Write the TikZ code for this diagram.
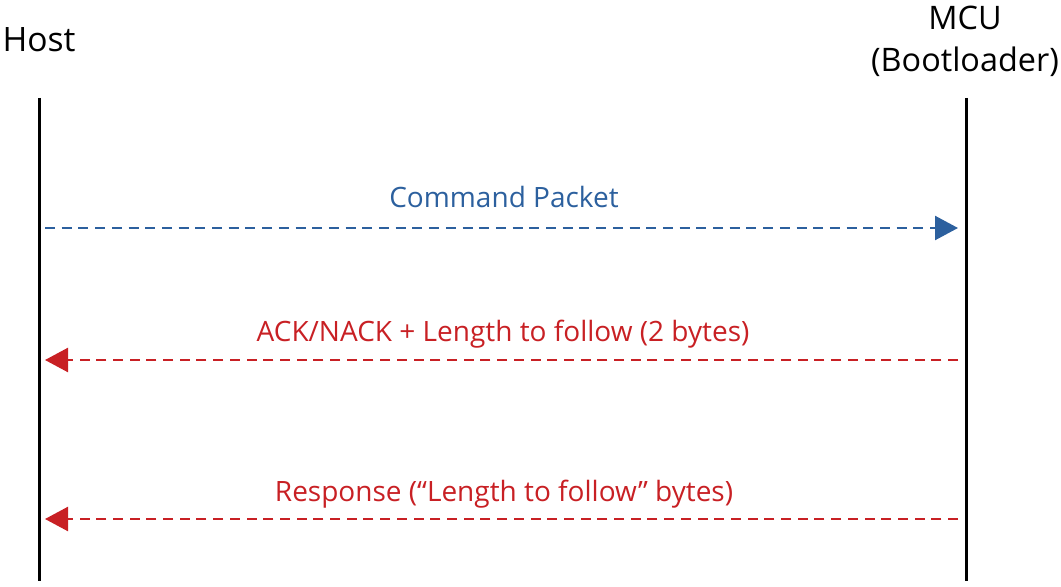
\documentclass[tikz,border=0pt]{standalone}
\usepackage{fontspec}
\setmainfont{Open Sans}
\usetikzlibrary{arrows.meta}

\definecolor{cmdblue}{RGB}{44,96,158}
\definecolor{rspred}{RGB}{200,32,36}

\tikzset{
  lifeline/.style={line width=3bp,black},
  msg/.style={line width=2.4bp,dash pattern=on 10bp off 6.7bp,-{Triangle[length=23bp,width=24bp]}},
  who/.style={font=\fontsize{33.6bp}{42bp}\selectfont,anchor=base,inner sep=0pt},
  msglabel/.style={font=\fontsize{28bp}{34bp}\selectfont,anchor=base,inner sep=0pt}
}

\begin{document}
\begin{tikzpicture}[x=1bp,y=-1bp]
            \useasboundingbox (0,0) rectangle (1061,587);

            % lifelines
            \coordinate (hosttop) at (39,98);
            \coordinate (hostbot) at (39,581);
            \coordinate (mcutop) at (966,98);
            \coordinate (mcubot) at (966,581);
            \draw[lifeline] (hosttop) -- (hostbot);
            \draw[lifeline] (mcutop) -- (mcubot);

            \node[who] (host) at (39,52) {Host};
            \node[who,font=\fontsize{32.4bp}{42bp}\selectfont] (mcu) at (965,30) {MCU};
            \node[who,font=\fontsize{32.4bp}{42bp}\selectfont] (boot) at (965,72) {(Bootloader)};

            % messages
            \coordinate (cmdfrom) at (45,228);
            \coordinate (cmdto) at (958,228);
            \coordinate (ackfrom) at (958,360);
            \coordinate (ackto) at (45,360);
            \coordinate (rspfrom) at (958,519);
            \coordinate (rspto) at (45,519);

            \draw[msg,cmdblue] (cmdfrom) -- (cmdto);
            \draw[msg,rspred] (ackfrom) -- (ackto);
            \draw[msg,rspred] (rspfrom) -- (rspto);

            \node[msglabel,text=cmdblue] (cmdlabel) at (504,208) {Command Packet};
            \node[msglabel,text=rspred] (acklabel) at (503,341) {ACK/NACK + Length to follow (2 bytes)};
            \node[msglabel,text=rspred] (rsplabel) at (504,501) {Response (“Length to follow” bytes)};

\end{tikzpicture}
\end{document}
